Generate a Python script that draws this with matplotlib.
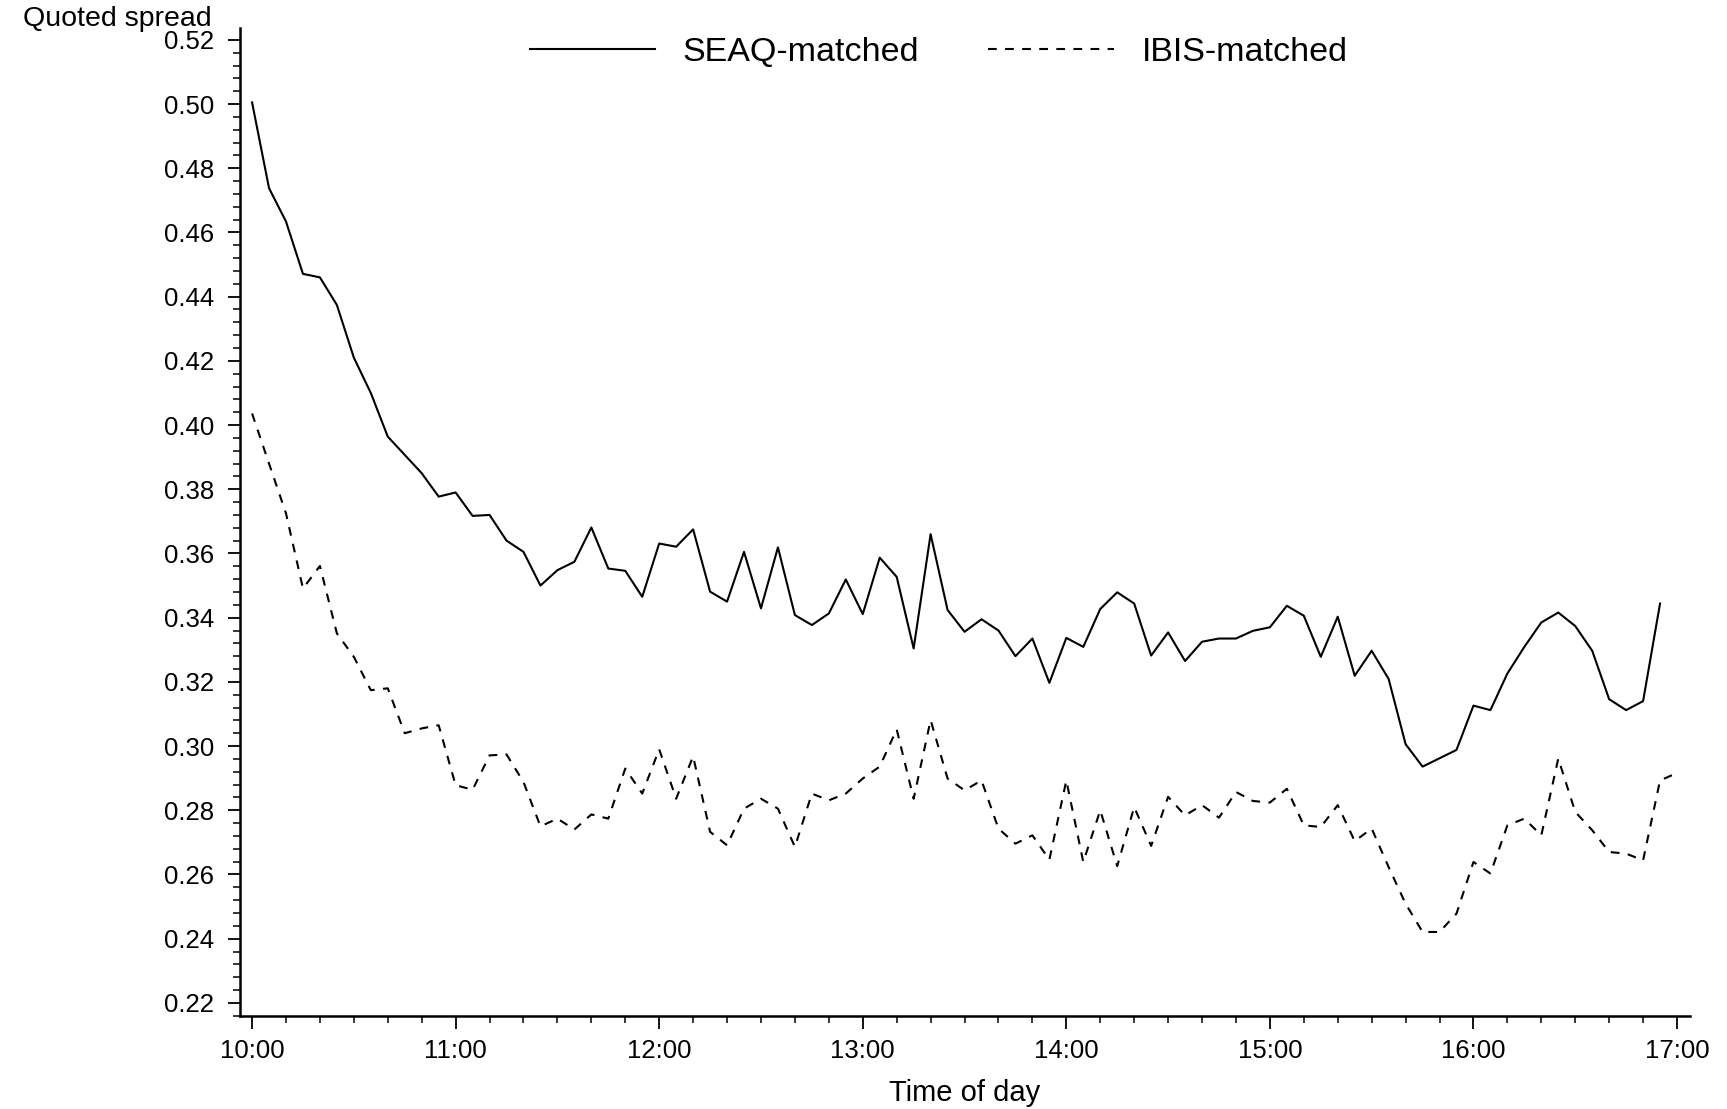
import numpy as np
import matplotlib
matplotlib.use("Agg")
import matplotlib.pyplot as plt
from matplotlib.ticker import MultipleLocator

plt.rcParams["font.family"] = ["Liberation Sans", "DejaVu Sans"]

# Quoted spread, 5-minute intervals starting 10:00
seaq = [0.5005, 0.4738, 0.4634, 0.4471, 0.4460, 0.4374, 0.4210, 0.4100, 0.3964, 0.3907,
        0.3850, 0.3777, 0.3790, 0.3717, 0.3720, 0.3640, 0.3605, 0.3500, 0.3548, 0.3574,
        0.3681, 0.3553, 0.3546, 0.3465, 0.3631, 0.3621, 0.3675, 0.3481, 0.3450, 0.3605,
        0.3429, 0.3619, 0.3408, 0.3377, 0.3413, 0.3519, 0.3411, 0.3587, 0.3527, 0.3304,
        0.3660, 0.3424, 0.3356, 0.3395, 0.3360, 0.3280, 0.3335, 0.3197, 0.3337, 0.3309,
        0.3427, 0.3479, 0.3444, 0.3282, 0.3354, 0.3265, 0.3325, 0.3335, 0.3335, 0.3359,
        0.3370, 0.3437, 0.3406, 0.3278, 0.3403, 0.3219, 0.3297, 0.3209, 0.3006, 0.2936,
        0.2962, 0.2988, 0.3126, 0.3112, 0.3226, 0.3309, 0.3385, 0.3416, 0.3374, 0.3297,
        0.3146, 0.3112, 0.3140, 0.3444]

ibis = [0.4036, 0.3880, 0.3725, 0.3491, 0.3561, 0.3351, 0.3278, 0.3174, 0.3180, 0.3040,
        0.3055, 0.3065, 0.2878, 0.2864, 0.2971, 0.2974, 0.2888, 0.2750, 0.2774, 0.2740,
        0.2787, 0.2774, 0.2930, 0.2852, 0.2990, 0.2836, 0.2968, 0.2733, 0.2691, 0.2805,
        0.2836, 0.2805, 0.2686, 0.2852, 0.2831, 0.2852, 0.2899, 0.2936, 0.3052, 0.2836,
        0.3081, 0.2899, 0.2862, 0.2893, 0.2743, 0.2696, 0.2722, 0.2646, 0.2893, 0.2639,
        0.2800, 0.2626, 0.2810, 0.2689, 0.2842, 0.2784, 0.2816, 0.2777, 0.2857, 0.2829,
        0.2824, 0.2867, 0.2753, 0.2748, 0.2816, 0.2704, 0.2743, 0.2623, 0.2509, 0.2421,
        0.2421, 0.2478, 0.2639, 0.2603, 0.2753, 0.2774, 0.2722, 0.2961, 0.2795, 0.2738,
        0.2670, 0.2665, 0.2644, 0.2893, 0.2916]

hours = list(range(10, 18))
hour_labels = [f"{h}:00" for h in hours]
y_ticks = [0.22, 0.24, 0.26, 0.28, 0.30, 0.32, 0.34, 0.36, 0.38, 0.40,
           0.42, 0.44, 0.46, 0.48, 0.50, 0.52]

t_seaq = 10 + np.arange(len(seaq)) * 5 / 60
t_ibis = 10 + np.arange(len(ibis)) * 5 / 60

fig = plt.figure(figsize=(17.27, 11.09), dpi=100)
ax = fig.add_axes([0.139, 0.0841, 0.9786 - 0.139, 0.9748 - 0.0841])

ax.plot(t_seaq, seaq, color="black", lw=1.5, label="SEAQ-matched")
ax.plot(t_ibis, ibis, color="black", lw=1.5, dashes=(4.2, 4.0), label="IBIS-matched")

ax.set_xlim(9.941, 17.064)
ax.set_ylim(0.2160, 0.5237)

ax.set_xticks(hours)
ax.set_xticklabels(hour_labels)
ax.set_yticks(y_ticks)
ax.set_yticklabels([f"{v:.2f}" for v in y_ticks])
ax.xaxis.set_minor_locator(MultipleLocator(10 / 60))
ax.yaxis.set_minor_locator(MultipleLocator(0.004))

ax.tick_params(axis="both", which="major", direction="out", width=1.3,
               labelsize=18.5, color="black")
ax.tick_params(axis="x", which="major", length=9.5, pad=7)
ax.tick_params(axis="y", which="major", length=8.5, pad=10)
ax.tick_params(axis="both", which="minor", direction="out", length=4.8, width=1.1)

for side in ("top", "right"):
    ax.spines[side].set_visible(False)
for side in ("left", "bottom"):
    ax.spines[side].set_linewidth(1.8)

ax.set_xlabel("Time of day", fontsize=21, labelpad=12)
fig.text(0.1225, 1 - 26 / 1109, "Quoted spread", fontsize=20.5, ha="right", va="baseline")

fig.legend(loc="center", bbox_to_anchor=(0.5435, 0.953), ncol=2, frameon=False,
           fontsize=24.5, handlelength=3.68, handletextpad=0.82, columnspacing=2.03)

fig.savefig("out.png", dpi=100)
